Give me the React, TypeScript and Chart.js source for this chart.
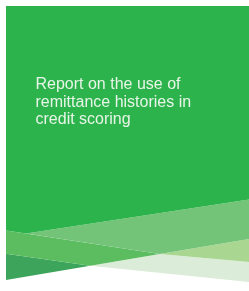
import React, { useEffect, useRef } from "react";
import { Chart, registerables } from "chart.js";

Chart.register(...registerables);

// Cover artwork regions (x, y in cover units; y grows downward)
const mainGreenX = [6, 249, 249, 26, 6];
const mainGreenY = [6, 6, 199.5, 233.5, 230.5];
const lightBandX = [26, 249, 249, 159.7];
const lightBandY = [233.5, 199.5, 239, 254];
const mediumBandX = [6, 159.7, 90.3, 6];
const mediumBandY = [230.5, 254, 265.8, 253.7];
const darkWedgeX = [6, 90.3, 6];
const darkWedgeY = [253.7, 265.8, 280];
const yellowWedgeX = [159.7, 249, 249];
const yellowWedgeY = [254, 239, 262];
const paleBandX = [90.3, 159.7, 249, 249];
const paleBandY = [265.8, 254, 262, 282];

const titleLines = ["Report on the use of", "remittance histories in", "credit scoring"];

const regions = [
  { name: "main", xs: mainGreenX, ys: mainGreenY, color: "#2cb34b" },
  { name: "light", xs: lightBandX, ys: lightBandY, color: "#73c379" },
  { name: "medium", xs: mediumBandX, ys: mediumBandY, color: "#5bbd60" },
  { name: "dark", xs: darkWedgeX, ys: darkWedgeY, color: "#3da55b" },
  { name: "yellow", xs: yellowWedgeX, ys: yellowWedgeY, color: "#a9d791" },
  { name: "pale", xs: paleBandX, ys: paleBandY, color: "#dbedd8" },
];

export default function App() {
  const ref = useRef<HTMLCanvasElement | null>(null);

  useEffect(() => {
    document.body.style.margin = "0";
    const canvas = ref.current;
    if (!canvas) return;
    const chart = new Chart(canvas, {
      type: "line",
      data: {
        datasets: regions.map((r) => ({
          label: r.name,
          data: r.xs.map((x, i) => ({ x, y: r.ys[i] })),
          backgroundColor: r.color,
          borderColor: r.color,
          borderWidth: 0,
          pointRadius: 0,
          tension: 0,
          fill: "shape" as any,
        })),
      },
      options: {
        animation: false,
        responsive: false,
        devicePixelRatio: 1,
        layout: { padding: 0 },
        plugins: { legend: { display: false }, tooltip: { enabled: false } },
        scales: {
          x: { type: "linear", min: 0, max: 249, display: false },
          y: { type: "linear", min: 0, max: 291, reverse: true, display: false },
        },
      },
    });
    return () => chart.destroy();
  }, []);

  return (
    <div style={{ position: "fixed", left: 0, top: 0, width: 249, height: 291, background: "#fff" }}>
      <canvas ref={ref} width={249} height={291} style={{ display: "block", width: 249, height: 291 }} />
      <div
        style={{
          position: "absolute",
          left: 35.5,
          top: 75,
          fontFamily: "'Liberation Sans', Arial, sans-serif",
          fontSize: 16,
          lineHeight: "17.5px",
          color: "#e8f5e8",
          whiteSpace: "nowrap",
        }}
      >
        {titleLines.map((t) => (
          <div key={t}>{t}</div>
        ))}
      </div>
    </div>
  );
}
